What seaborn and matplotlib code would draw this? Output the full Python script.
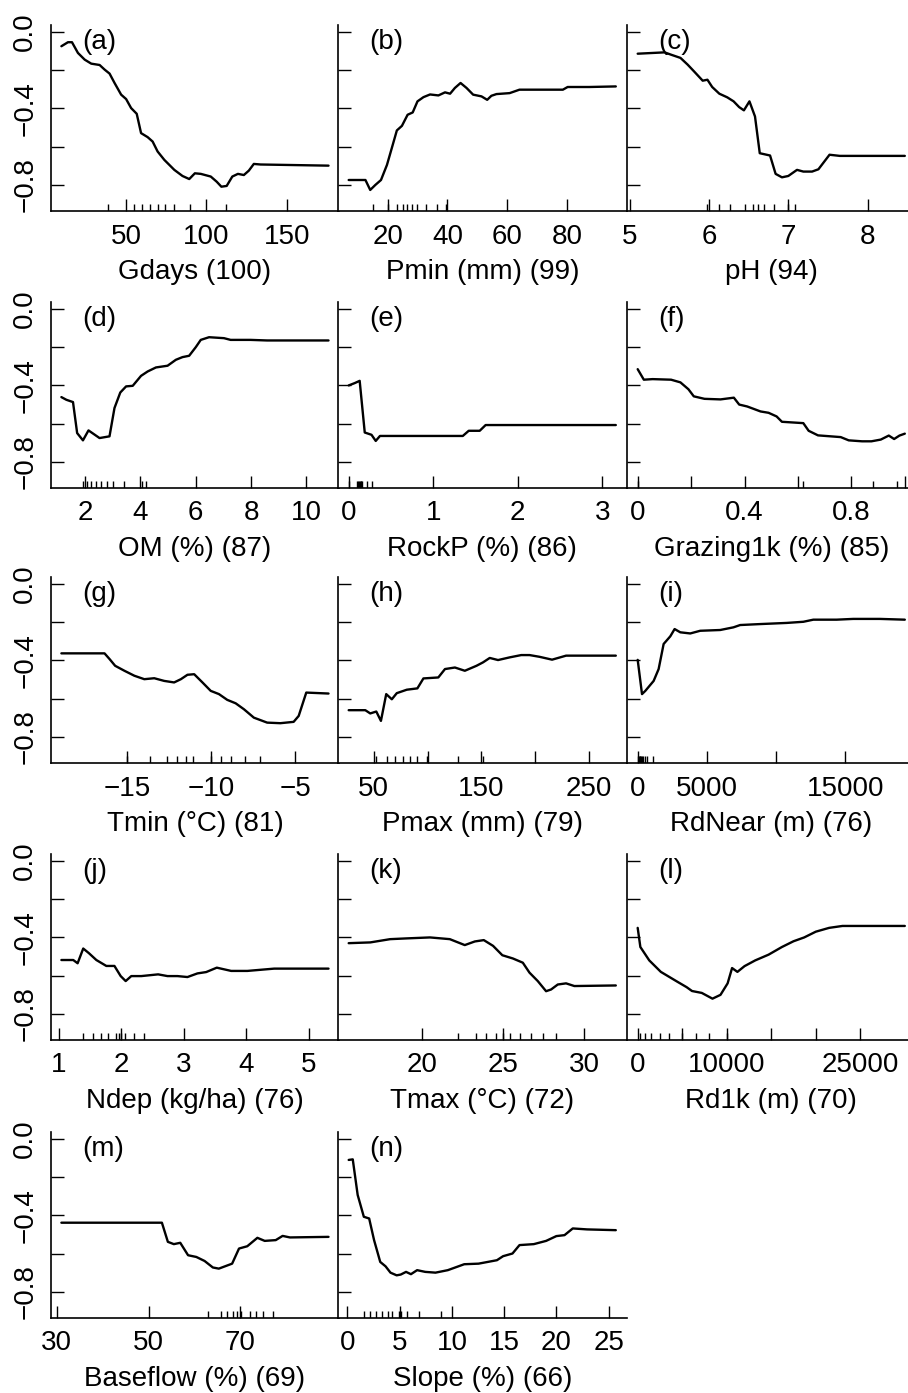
import numpy as np
import pandas as pd
import matplotlib
matplotlib.use("Agg")
import matplotlib.pyplot as plt
import seaborn as sns
from matplotlib.ticker import FixedLocator, FixedFormatter

sns.set_theme(style="ticks")
plt.rcParams['font.family'] = ['Liberation Sans', 'DejaVu Sans']

# ---------------- data ----------------
a_x = [9.7, 13.8, 16.3, 20.0, 24.2, 28.3, 33.5, 36.6, 39.7, 42.8, 46.9, 50.0, 53.1, 56.6, 59.3, 63.4, 66.5,
       69.6, 73.8, 80.0, 85.1, 89.3, 92.8, 96.5, 102.7, 106.4, 109.3, 112.6, 116.1, 119.6, 123.3, 126.4,
       129.5, 133.7, 176.0]
a_y = [-0.075, -0.054, -0.054, -0.11, -0.145, -0.166, -0.173, -0.197, -0.218, -0.267, -0.328, -0.351, -0.398,
       -0.428, -0.529, -0.55, -0.573, -0.625, -0.669, -0.721, -0.753, -0.769, -0.739, -0.742, -0.756, -0.783,
       -0.809, -0.805, -0.756, -0.742, -0.748, -0.725, -0.69, -0.693, -0.699]
a_rug = [39, 55, 60, 65, 70, 74, 80, 90, 112]

b_x = [7.0, 12.6, 14.2, 15.9, 17.8, 19.8, 21.4, 23.1, 24.8, 26.7, 28.4, 30.0, 32.0, 34.2, 37.0, 39.2, 40.9,
       42.5, 44.4, 46.4, 48.6, 51.4, 53.3, 54.7, 56.4, 60.8, 64.1, 78.6, 80.2, 87.4, 96.3]
b_y = [-0.774, -0.774, -0.826, -0.80, -0.774, -0.695, -0.608, -0.515, -0.491, -0.433, -0.421, -0.363, -0.341,
       -0.327, -0.332, -0.316, -0.323, -0.293, -0.267, -0.293, -0.328, -0.337, -0.355, -0.334, -0.325, -0.32,
       -0.302, -0.302, -0.288, -0.288, -0.285]
b_rug = [15, 20, 23, 25, 26.5, 28, 30, 33, 36.5, 39.5]

c_x = [5.10, 5.44, 5.52, 5.64, 5.73, 5.81, 5.92, 5.98, 6.04, 6.13, 6.23, 6.31, 6.38, 6.44, 6.51, 6.58, 6.64,
       6.77, 6.84, 6.92, 7.00, 7.11, 7.19, 7.30, 7.38, 7.52, 7.65, 8.47]
c_y = [-0.114, -0.107, -0.119, -0.136, -0.171, -0.206, -0.255, -0.25, -0.288, -0.323, -0.342, -0.363, -0.393,
       -0.41, -0.363, -0.442, -0.634, -0.646, -0.742, -0.76, -0.753, -0.721, -0.73, -0.73, -0.718, -0.642,
       -0.648, -0.648]
c_rug = [5.97, 6.13, 6.27, 6.46, 6.55, 6.62, 6.69, 6.82, 7.0, 7.08]

d_x = [1.14, 1.32, 1.56, 1.71, 1.92, 2.12, 2.34, 2.52, 2.88, 3.06, 3.27, 3.48, 3.72, 4.02, 4.26, 4.56, 4.98,
       5.28, 5.52, 5.76, 6.00, 6.18, 6.48, 7.02, 7.26, 7.98, 8.58, 10.8]
d_y = [-0.461, -0.475, -0.487, -0.649, -0.687, -0.635, -0.657, -0.675, -0.666, -0.518, -0.437, -0.405, -0.402,
       -0.35, -0.327, -0.306, -0.297, -0.266, -0.252, -0.245, -0.2, -0.162, -0.148, -0.153, -0.162, -0.162,
       -0.165, -0.165]
d_rug = [1.92, 2.07, 2.22, 2.4, 2.58, 2.8, 3.0, 3.39, 4.04, 4.2]

e_x = [0.0, 0.07, 0.13, 0.19, 0.27, 0.32, 0.37, 1.35, 1.42, 1.55, 1.62, 3.16]
e_y = [-0.40, -0.388, -0.376, -0.646, -0.658, -0.69, -0.664, -0.664, -0.637, -0.637, -0.607, -0.607]
e_rug = [0.0, 0.10, 0.11, 0.12, 0.13, 0.14, 0.15, 0.16, 0.22, 0.27]

f_x = [0.0, 0.023, 0.056, 0.125, 0.16, 0.19, 0.21, 0.25, 0.31, 0.36, 0.38, 0.41, 0.46, 0.49, 0.52, 0.54,
       0.62, 0.64, 0.675, 0.76, 0.79, 0.84, 0.875, 0.91, 0.94, 0.96, 0.98, 1.0]
f_y = [-0.315, -0.37, -0.367, -0.37, -0.384, -0.42, -0.457, -0.47, -0.473, -0.464, -0.5, -0.51, -0.536,
       -0.543, -0.562, -0.59, -0.597, -0.637, -0.661, -0.67, -0.687, -0.692, -0.692, -0.683, -0.662, -0.68,
       -0.662, -0.652]
f_rug = [0.0, 0.62, 0.88, 0.97]

g_x = [-18.88, -16.32, -16.02, -15.69, -15.14, -14.55, -13.96, -13.37, -12.78, -12.19, -11.79, -11.4, -11.0,
       -10.51, -10.02, -9.53, -9.04, -8.54, -8.05, -7.46, -6.67, -5.89, -5.1, -4.8, -4.35, -3.03]
g_y = [-0.363, -0.363, -0.393, -0.428, -0.454, -0.48, -0.498, -0.493, -0.507, -0.515, -0.498, -0.475, -0.472,
       -0.515, -0.559, -0.576, -0.606, -0.624, -0.655, -0.699, -0.725, -0.728, -0.721, -0.69, -0.568, -0.573]
g_rug = [-15, -13.6, -12.6, -12.0, -11.5, -11.1, -10.0, -9.4, -8.8, -8.0, -7.1]

h_x = [26.9, 42.3, 46.9, 52.5, 56.8, 61.7, 66.9, 71.5, 80.8, 90.6, 96.2, 110, 116.2, 125.4, 134.6, 145.4,
       151.5, 157.7, 165.4, 176.2, 186.9, 194.6, 203.8, 215.5, 228.5, 274.6]
h_y = [-0.66, -0.66, -0.677, -0.667, -0.716, -0.576, -0.603, -0.571, -0.553, -0.546, -0.494, -0.489, -0.445,
       -0.437, -0.454, -0.428, -0.41, -0.387, -0.398, -0.384, -0.372, -0.372, -0.381, -0.396, -0.375, -0.375]
h_rug = [52.5, 62.3, 70, 77.7, 83.8, 90.6, 99.2, 128.5, 151.5]

i_x = [0, 312, 553, 1154, 1514, 1875, 2356, 2668, 3077, 3798, 4519, 5962, 6923, 7404, 8846, 10769, 11971,
       12692, 14375, 15577, 17500, 19303]
i_y = [-0.397, -0.576, -0.559, -0.507, -0.445, -0.314, -0.274, -0.236, -0.253, -0.259, -0.245, -0.241,
       -0.227, -0.215, -0.21, -0.204, -0.198, -0.187, -0.187, -0.183, -0.183, -0.187]
i_rug = [50, 100, 150, 200, 250, 300, 350, 500, 700, 1100]

j_x = [1.04, 1.23, 1.30, 1.39, 1.48, 1.60, 1.76, 1.89, 1.99, 2.07, 2.16, 2.32, 2.59, 2.74, 2.90, 3.06, 3.22,
       3.36, 3.53, 3.76, 4.02, 4.45, 5.32]
j_y = [-0.518, -0.518, -0.535, -0.458, -0.482, -0.518, -0.549, -0.549, -0.602, -0.628, -0.602, -0.602,
       -0.593, -0.602, -0.602, -0.607, -0.588, -0.581, -0.558, -0.575, -0.575, -0.563, -0.563]
j_rug = [1.39, 1.55, 1.67, 1.79, 1.92, 1.96, 2.0, 2.06, 2.2, 2.36]

k_x = [15.51, 16.84, 18.06, 19.08, 20.51, 21.73, 22.65, 23.27, 23.82, 24.39, 24.96, 25.61, 26.22, 26.63,
       27.14, 27.65, 27.96, 28.37, 28.88, 29.39, 31.94]
k_y = [-0.43, -0.426, -0.409, -0.405, -0.40, -0.409, -0.44, -0.421, -0.414, -0.444, -0.493, -0.51, -0.532,
       -0.584, -0.628, -0.681, -0.672, -0.646, -0.64, -0.654, -0.651]
k_rug = [22.24, 23.31, 23.98, 24.59, 25.0, 25.41, 26.02, 26.73, 27.45, 28.27]

l_x = [0, 300, 1300, 2600, 4400, 5500, 6100, 7200, 8400, 9300, 10100, 10600, 11200, 12000, 13200, 14700,
       16200, 17500, 18700, 20000, 21500, 23000, 30000]
l_y = [-0.35, -0.45, -0.52, -0.58, -0.63, -0.66, -0.68, -0.69, -0.72, -0.70, -0.64, -0.56, -0.58, -0.55,
       -0.52, -0.49, -0.45, -0.42, -0.40, -0.37, -0.35, -0.34, -0.34]
l_rug = [300, 800, 1500, 2500, 3500, 5000, 6500, 8000, 10000]

m_x = [31.0, 52.9, 54.2, 55.5, 56.9, 58.6, 60.4, 62.2, 64.0, 65.3, 68.2, 69.7, 71.5, 73.7, 75.3, 77.7,
       79.2, 80.8, 89.2]
m_y = [-0.438, -0.438, -0.538, -0.55, -0.543, -0.608, -0.617, -0.638, -0.672, -0.678, -0.652, -0.573,
       -0.561, -0.517, -0.533, -0.529, -0.507, -0.515, -0.512]
m_rug = [62.9, 65.7, 67.1, 68.4, 69.3, 70.2, 72.1, 73.3, 75.0, 77.1]

n_x = [0.12, 0.51, 0.98, 1.57, 2.08, 2.55, 3.14, 3.65, 4.12, 4.71, 5.1, 5.61, 6.08, 6.67, 7.45, 8.43, 9.61,
       11.18, 12.55, 14.31, 14.9, 15.8, 16.47, 17.84, 19.02, 20.0, 20.78, 21.57, 22.94, 25.69]
n_y = [-0.11, -0.107, -0.293, -0.407, -0.416, -0.529, -0.643, -0.666, -0.699, -0.713, -0.709, -0.695,
       -0.707, -0.686, -0.695, -0.699, -0.686, -0.655, -0.652, -0.634, -0.613, -0.599, -0.555, -0.55, -0.533,
       -0.508, -0.503, -0.468, -0.473, -0.477]
n_rug = [1.57, 2.16, 2.75, 3.33, 3.92, 4.31, 4.9, 5.1, 5.69, 6.86, 9.0]

panel_letters = ['(a)', '(b)', '(c)', '(d)', '(e)', '(f)', '(g)', '(h)', '(i)', '(j)', '(k)', '(l)', '(m)', '(n)']
x_labels = ['Gdays (100)', 'Pmin (mm) (99)', 'pH (94)', 'OM (%) (87)', 'RockP (%) (86)',
            'Grazing1k (%) (85)', 'Tmin (°C) (81)', 'Pmax (mm) (79)', 'RdNear (m) (76)',
            'Ndep (kg/ha) (76)', 'Tmax (°C) (72)', 'Rd1k (m) (70)', 'Baseflow (%) (69)', 'Slope (%) (66)']
x_ticks = [
    ([50, 100, 150], ['50', '100', '150']),
    ([20, 40, 60, 80], ['20', '40', '60', '80']),
    ([5, 6, 7, 8], ['5', '6', '7', '8']),
    ([2, 4, 6, 8, 10], ['2', '4', '6', '8', '10']),
    ([0, 1, 2, 3], ['0', '1', '2', '3']),
    ([0, 0.2, 0.4, 0.6, 0.8, 1.0], ['0', '', '0.4', '', '0.8', '']),
    ([-15, -10, -5], ['−15', '−10', '−5']),
    ([50, 100, 150, 200, 250], ['50', '', '150', '', '250']),
    ([0, 5000, 10000, 15000], ['0', '5000', '', '15000']),
    ([1, 2, 3, 4, 5], ['1', '2', '3', '4', '5']),
    ([20, 25, 30], ['20', '25', '30']),
    ([0, 5000, 10000, 15000, 20000, 25000], ['0', '', '10000', '', '', '25000']),
    ([30, 50, 70], ['30', '50', '70']),
    ([0, 5, 10, 15, 20, 25], ['0', '5', '10', '15', '20', '25']),
]
series = [(a_x, a_y, a_rug), (b_x, b_y, b_rug), (c_x, c_y, c_rug), (d_x, d_y, d_rug), (e_x, e_y, e_rug),
          (f_x, f_y, f_rug), (g_x, g_y, g_rug), (h_x, h_y, h_rug), (i_x, i_y, i_rug), (j_x, j_y, j_rug),
          (k_x, k_y, k_rug), (l_x, l_y, l_rug), (m_x, m_y, m_rug), (n_x, n_y, n_rug)]
y_ticks = [0.0, -0.2, -0.4, -0.6, -0.8]
y_ticklabels = ['0.0', '', '−0.4', '', '−0.8']

# ---------------- figure ----------------
W, H = 908, 1393
fig = plt.figure(figsize=(W / 100, H / 100), dpi=100)
col_left = [50.7, 338, 627]
col_w = 288.5
row_bottom = [211, 488, 763, 1040, 1318]
row_h = 186
FS = 20

for idx, ((xs, ys, rug), letter, xl, (tk, tkl)) in enumerate(zip(series, panel_letters, x_labels, x_ticks)):
    r, c = divmod(idx, 3)
    ax = fig.add_axes([col_left[c] / W, 1 - row_bottom[r] / H, col_w / W, row_h / H])
    df = pd.DataFrame({'x': xs, 'y': ys})
    sns.lineplot(data=df, x='x', y='y', ax=ax, color='black', linewidth=1.7, estimator=None, sort=False)
    sns.rugplot(x=rug, ax=ax, height=0.035, color='black', linewidth=1.0)
    lo, hi = min(xs), max(xs)
    pad = 0.04 * (hi - lo)
    ax.set_xlim(lo - pad, hi + pad)
    ax.set_ylim(-0.936, 0.036)
    ax.xaxis.set_major_locator(FixedLocator(tk))
    ax.xaxis.set_major_formatter(FixedFormatter(tkl))
    ax.yaxis.set_major_locator(FixedLocator(y_ticks))
    if c == 0:
        ax.yaxis.set_major_formatter(FixedFormatter(y_ticklabels))
        for t in ax.get_yticklabels():
            t.set_rotation(90)
            t.set_va('center')
    else:
        ax.yaxis.set_major_formatter(FixedFormatter([''] * len(y_ticks)))
    ax.tick_params(axis='both', direction='in', length=9, width=1.0, color='black',
                   labelsize=FS, labelcolor='black')
    ax.tick_params(axis='x', pad=9)
    ax.tick_params(axis='y', pad=9)
    for s in ['top', 'right']:
        ax.spines[s].set_visible(False)
    for s in ['left', 'bottom']:
        ax.spines[s].set_color('black')
        ax.spines[s].set_linewidth(1.2)
    ax.set_facecolor('white')
    ax.set_xlabel(xl, fontsize=FS, color='black', labelpad=7)
    ax.set_ylabel('')
    ax.text(0.11, 0.91, letter, transform=ax.transAxes, fontsize=FS, va='center', ha='left', color='black')

fig.savefig('out.png', dpi=100, facecolor='white')
